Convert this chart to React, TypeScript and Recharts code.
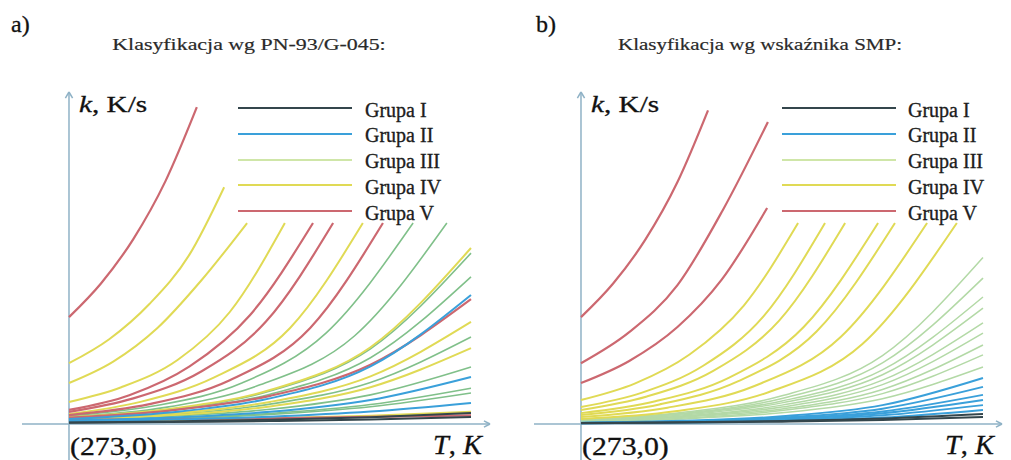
import { LineChart, Line, XAxis, YAxis, ReferenceLine } from "recharts";

const groups = ["Grupa I", "Grupa II", "Grupa III", "Grupa IV", "Grupa V"];

// a) Klasyfikacja wg PN-93/G-045 — each curve is a list of [T - 273, k] in relative units
const pnGrupaI = [
  [[0, 0.5], [25, 0.8], [50, 1.3], [75, 2.1], [100, 3.4]],
  [[0, 0.4], [25, 0.6], [50, 0.9], [75, 1.4], [100, 2.2]],
];
const pnGrupaII = [
  [[0, 1.6], [25, 3.6], [50, 8], [75, 18], [100, 40.3]],
  [[0, 1], [25, 2], [50, 3.8], [75, 7.5], [100, 14.7]],
  [[0, 0.8], [25, 1.4], [50, 2.3], [75, 3.9], [100, 6.6]],
];
const pnGrupaIII = [
  [[0, 2.5], [21, 5.6], [43, 12.8], [64, 28.5], [85.6, 62.8]],
  [[0, 2.2], [24, 5.2], [47, 12], [71, 27.5], [94, 62.8]],
  [[0, 2], [25, 4.5], [50, 10.3], [75, 23.5], [100, 53.4]],
  [[0, 1.9], [25, 4.2], [50, 9.3], [75, 20.7], [100, 46]],
  [[0, 1.4], [25, 2.9], [50, 6.2], [75, 13], [100, 27.2]],
  [[0, 1.2], [25, 2.4], [50, 4.6], [75, 9.1], [100, 17.8]],
  [[0, 1], [25, 1.8], [50, 3.3], [75, 6.1], [100, 11.2]],
  [[0, 0.9], [25, 1.6], [50, 3], [75, 5.4], [100, 9.7]],
];
const pnGrupaIV = [
  [[0, 19], [10, 26.5], [20, 37.5], [30, 53], [38.6, 74]],
  [[0, 12.8], [11, 19.5], [22, 30], [33, 45], [44.3, 62.8]],
  [[0, 6.9], [13, 11.5], [27, 20], [40, 35], [53.7, 62.8]],
  [[0, 3.1], [18, 7], [36, 14.5], [55, 30], [73.1, 62.8]],
  [[0, 2.1], [25, 4.7], [50, 10.6], [75, 24], [100, 55]],
  [[0, 1.5], [25, 3.2], [50, 6.9], [75, 14.9], [100, 31.9]],
  [[0, 1.3], [25, 2.7], [50, 5.5], [75, 11.5], [100, 23.7]],
  [[0, 1], [25, 1.3], [50, 1.8], [75, 2.6], [100, 3.8]],
];
const pnGrupaV = [
  [[0, 33.4], [8, 44], [16, 57.8], [24, 75.9], [31.8, 99]],
  [[0, 4.4], [15, 9], [30, 18], [45, 34], [60.7, 62.8]],
  [[0, 3.8], [16, 8], [33, 16.5], [49, 32], [65.7, 62.8]],
  [[0, 2.8], [20, 6.2], [40, 13.7], [60, 30], [78.1, 62.8]],
  [[0, 2], [25, 4.2], [50, 8.8], [75, 18.5], [100, 39]],
  [[0, 1.3], [25, 1.5], [50, 1.8], [75, 2.2], [100, 2.7]],
];

// b) Klasyfikacja wg wskaźnika SMP
const smpGrupaI = [
  [[0, 0.3], [25, 0.54], [50, 0.96], [75, 1.7], [100, 3.1]],
  [[0, 0.25], [25, 0.43], [50, 0.74], [75, 1.28], [100, 2.2]],
];
const smpGrupaII = [
  [[0, 0.4], [25, 1], [50, 2.4], [75, 5.9], [100, 14.4]],
  [[0, 0.35], [25, 0.84], [50, 2], [75, 4.8], [100, 11.6]],
  [[0, 0.3], [25, 0.7], [50, 1.65], [75, 3.9], [100, 9.1]],
  [[0, 0.3], [25, 0.67], [50, 1.5], [75, 3.35], [100, 7.5]],
  [[0, 0.25], [25, 0.55], [50, 1.2], [75, 2.7], [100, 5.9]],
  [[0, 0.2], [25, 0.43], [50, 0.94], [75, 2], [100, 4.4]],
];
const smpGrupaIII = [
  [[0, 1.5], [25, 3.6], [50, 8.8], [75, 21.4], [100, 52]],
  [[0, 1.4], [25, 3.3], [50, 8], [75, 19.1], [100, 45.6]],
  [[0, 1.3], [25, 3.1], [50, 7.2], [75, 16.9], [100, 39.7]],
  [[0, 1.2], [25, 2.8], [50, 6.6], [75, 15.4], [100, 36.2]],
  [[0, 1.1], [25, 2.5], [50, 5.9], [75, 13.7], [100, 31.6]],
  [[0, 1], [25, 2.3], [50, 5.3], [75, 12.3], [100, 28.4]],
  [[0, 0.9], [25, 2.1], [50, 4.7], [75, 10.8], [100, 24.7]],
  [[0, 0.8], [25, 1.8], [50, 4.2], [75, 9.5], [100, 21.6]],
  [[0, 0.7], [25, 1.6], [50, 3.5], [75, 7.9], [100, 17.8]],
];
const smpGrupaIV = [
  [[0, 7.5], [13.5, 12.7], [27, 21.7], [40.5, 37], [54, 62.8]],
  [[0, 5.3], [15.2, 9.8], [30.4, 18.2], [45.5, 33.8], [60.7, 62.8]],
  [[0, 4.4], [16.4, 8.6], [32.9, 16.6], [49.3, 32.3], [65.7, 62.8]],
  [[0, 3.4], [18.5, 7.1], [37, 14.6], [55.4, 30.3], [73.9, 62.8]],
  [[0, 2.8], [19.5, 6.1], [39, 13.3], [58.6, 28.9], [78.1, 62.8]],
  [[0, 2.2], [21.5, 5.1], [43, 11.8], [64.6, 27.2], [86.1, 62.8]],
  [[0, 1.6], [23.4, 4], [46.8, 10], [70, 25], [93.5, 62.8]],
];
const smpGrupaV = [
  [[0, 33.4], [8, 43.9], [16, 57.6], [24, 75.6], [31.6, 98]],
  [[0, 19], [12, 28.7], [24, 43.4], [35.3, 66.9], [46.5, 94.4]],
  [[0, 12.8], [12, 19.7], [24, 30.3], [35, 45.1], [46.3, 67.5]],
];

const legendColors = ["#34464c", "#3aa0da", "#cfe6a8", "#e0da55", "#cc6870"];
const FONT = "'Liberation Serif', 'Times New Roman', serif";

// chart box: x axis line spans px 22..490, y axis line 92..460 inside a 505x460 box
const X_DOMAIN = [-11.69, 104.73];
const Y_DOMAIN = [-11.25, 103.75];
const AXIS = "#8fb2c6";

function Panel({ left, series }) {
  return (
    <div style={{ position: "absolute", left, top: 0 }}>
      <LineChart width={505} height={460} margin={{ top: 92, right: 15, bottom: 0, left: 22 }}>
        <XAxis type="number" dataKey="x" domain={X_DOMAIN} hide allowDataOverflow />
        <YAxis type="number" dataKey="y" domain={Y_DOMAIN} hide allowDataOverflow />
        <ReferenceLine ifOverflow="visible" segment={[{ x: X_DOMAIN[0], y: 0 }, { x: X_DOMAIN[1], y: 0 }]} stroke={AXIS} strokeWidth={1.5} />
        <ReferenceLine ifOverflow="visible" segment={[{ x: 0, y: Y_DOMAIN[0] }, { x: 0, y: Y_DOMAIN[1] }]} stroke={AXIS} strokeWidth={1.5} />
        {/* arrow heads */}
        <ReferenceLine ifOverflow="visible" segment={[{ x: X_DOMAIN[1] - 1.5, y: 1 }, { x: X_DOMAIN[1], y: 0 }]} stroke={AXIS} strokeWidth={1.5} />
        <ReferenceLine ifOverflow="visible" segment={[{ x: X_DOMAIN[1] - 1.5, y: -1 }, { x: X_DOMAIN[1], y: 0 }]} stroke={AXIS} strokeWidth={1.5} />
        <ReferenceLine ifOverflow="visible" segment={[{ x: -0.9, y: Y_DOMAIN[1] - 1.9 }, { x: 0, y: Y_DOMAIN[1] }]} stroke={AXIS} strokeWidth={1.5} />
        <ReferenceLine ifOverflow="visible" segment={[{ x: 0.9, y: Y_DOMAIN[1] - 1.9 }, { x: 0, y: Y_DOMAIN[1] }]} stroke={AXIS} strokeWidth={1.5} />
        {series.flatMap((s, si) =>
          s.curves.map((c, ci) => (
            <Line
              key={`${si}-${ci}`}
              data={c.map(([x, y]) => ({ x, y }))}
              dataKey="y"
              type="monotone"
              dot={false}
              activeDot={false}
              stroke={s.color}
              strokeWidth={s.width}
              isAnimationActive={false}
            />
          ))
        )}
      </LineChart>
    </div>
  );
}

// sx: horizontal stretch, the source figure's lettering is a bit widened
function Text({ left, top, size, sx = 1, origin = "left", children, style }: any) {
  return (
    <div
      style={{
        position: "absolute",
        left,
        top,
        fontSize: size,
        lineHeight: `${size}px`,
        whiteSpace: "nowrap",
        transform: `scaleX(${sx})`,
        transformOrigin: `${origin} center`,
        ...style,
      }}
    >
      {children}
    </div>
  );
}

function Legend({ lineLeft, textLeft }) {
  return (
    <>
      {groups.map((g, i) => (
        <div key={g}>
          <div style={{ position: "absolute", left: lineLeft, top: 107 + i * 25.75, width: 114, height: 2.2, background: legendColors[i] }} />
          <Text left={textLeft} top={99.5 + i * 25.75} size={20} style={{ color: "#222" }}>{g}</Text>
        </div>
      ))}
    </>
  );
}

function Labels({ dx }) {
  return (
    <>
      <Text left={dx + 79} top={93} size={23} sx={1.27}><i>k</i>, K/s</Text>
      <Text left={dx + 70} top={434} size={25} sx={1.19}>(273,0)</Text>
      <Text left={dx + 433} top={432} size={27} sx={1.05}><i>T</i>, <i>K</i></Text>
    </>
  );
}

export default function App() {
  const seriesA = [
    { color: "#80c08a", width: 1.6, curves: pnGrupaIII },
    { color: "#e0da55", width: 2, curves: pnGrupaIV },
    { color: "#cc6870", width: 2.2, curves: pnGrupaV },
    { color: "#3aa0da", width: 2, curves: pnGrupaII },
    { color: "#34464c", width: 2, curves: pnGrupaI },
  ];
  const seriesB = [
    { color: "#b3d9a6", width: 1.5, curves: smpGrupaIII },
    { color: "#e0da55", width: 2, curves: smpGrupaIV },
    { color: "#cc6870", width: 2.2, curves: smpGrupaV },
    { color: "#3aa0da", width: 2, curves: smpGrupaII },
    { color: "#34464c", width: 2, curves: smpGrupaI },
  ];
  const titleStyle = { width: 498, textAlign: "center" as const, color: "#2a2a2a", WebkitTextStroke: "0.2px #2a2a2a" };
  return (
    <>
      <style>{"body{margin:0}"}</style>
      <div style={{ position: "relative", width: 1011, height: 460, background: "#fff", fontFamily: FONT, color: "#111", overflow: "hidden", WebkitTextStroke: "0.3px #111" }}>
        <Panel left={0} series={seriesA} />
        <Panel left={512} series={seriesB} />

        <Text left={11} top={12} size={24}>a)</Text>
        <Text left={536} top={12} size={24}>b)</Text>
        <Text left={0} top={36} size={17.5} sx={1.25} origin="center" style={titleStyle}>
          Klasyfikacja wg PN-93/G-045:
        </Text>
        <Text left={511} top={36} size={17.5} sx={1.2} origin="center" style={titleStyle}>
          Klasyfikacja wg wskaźnika SMP:
        </Text>

        <Labels dx={0} />
        <Labels dx={512} />
        <Legend lineLeft={238} textLeft={365} />
        <Legend lineLeft={782} textLeft={908} />
      </div>
    </>
  );
}
